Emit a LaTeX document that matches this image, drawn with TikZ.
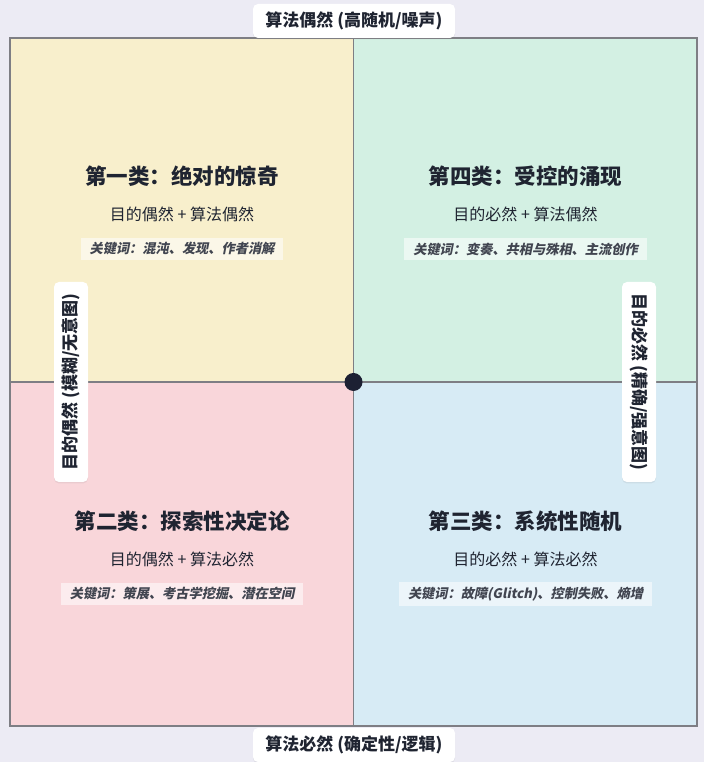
\documentclass[tikz,border=0pt]{standalone}
\usepackage{fontspec}
\setmainfont{Noto Sans CJK SC}
\newfontfamily\kwfont{Noto Sans CJK SC}[FakeSlant=0.2]
\usepackage{xcolor}
\usetikzlibrary{positioning,shadows}
\definecolor{bgpage}{HTML}{ECEBF4}
\definecolor{qyellow}{HTML}{F8EFCC}
\definecolor{qgreen}{HTML}{D3F0E3}
\definecolor{qpink}{HTML}{F9D6DA}
\definecolor{qblue}{HTML}{D7EBF5}
\definecolor{gridline}{HTML}{7E7E84}
\definecolor{ink}{HTML}{1F2431}
\definecolor{hubfill}{HTML}{1C2033}
\tikzset{%
	qtitle/.style    = {font=\fontsize{21.5}{24}\selectfont\bfseries, text=ink}, % Quadrant title
	formula/.style   = {font=\fontsize{16}{19}\selectfont, text=ink}, % Purpose + algorithm
	keyword/.style   = {fill=white, fill opacity=0.55, text opacity=1, text=ink!85,
		font=\kwfont\fontsize{13.2}{15}\selectfont\bfseries, inner xsep=9pt, inner ysep=5pt}, % Keywords
	axislabel/.style = {fill=white, rounded corners=5pt, text=ink,
		font=\fontsize{17}{19}\selectfont\bfseries, minimum width=202pt, minimum height=34pt,
		drop shadow={opacity=0.12, shadow xshift=0pt, shadow yshift=-1.5pt}}, % Axis label
	hub/.style       = {circle, fill=hubfill, minimum size=18pt, inner sep=0pt}, % Origin
}

\begin{document}
\begin{tikzpicture}[x=1pt,y=1pt,node distance=38pt]
	\useasboundingbox (0,0) rectangle (704,762);
	\fill[bgpage] (0,0) rectangle (704,762);
	
	% quadrants
	\fill[qyellow] (10,380) rectangle (353.5,724);
	\fill[qgreen] (353.5,380) rectangle (697,724);
	\fill[qpink] (10,36) rectangle (353.5,380);
	\fill[qblue] (353.5,36) rectangle (697,380);
	\draw[gridline,line width=1.5pt] (353.5,36) -- (353.5,724);
	\draw[gridline,line width=1.5pt] (10,380) -- (697,380);
	\draw[gridline,line width=2pt] (10,36) rectangle (697,724);
	
	\node [hub] (o) at (353.5,380) {};
	
	\node [qtitle] (t1) at (182,586) {第一类：绝对的惊奇};
	\node [formula] (f1) [below of=t1] {目的偶然 + 算法偶然};
	\node [keyword] (k1) [below of=f1,node distance=35pt] {关键词：混沌、发现、作者消解};
	
	\node [qtitle] (t4) at (525.5,586) {第四类：受控的涌现};
	\node [formula] (f4) [below of=t4] {目的必然 + 算法偶然};
	\node [keyword] (k4) [below of=f4,node distance=35pt] {关键词：变奏、共相与殊相、主流创作};
	
	\node [qtitle] (t2) at (182,241) {第二类：探索性决定论};
	\node [formula] (f2) [below of=t2] {目的偶然 + 算法必然};
	\node [keyword] (k2) [below of=f2,node distance=35pt] {关键词：策展、考古学挖掘、潜在空间};
	
	\node [qtitle] (t3) at (525.5,241) {第三类：系统性随机};
	\node [formula] (f3) [below of=t3] {目的必然 + 算法必然};
	\node [keyword] (k3) [below of=f3,node distance=35pt] {关键词：故障(Glitch)、控制失败、熵增};
	
	% axes
	\node [axislabel] (ytop) at (354,741) {算法偶然 (高随机/噪声)};
	\node [axislabel] (ybot) at (354,17) {算法必然 (确定性/逻辑)};
	\node [axislabel,rotate=90,minimum width=200pt] (xleft) at (71,380) {目的偶然 (模糊/无意图)};
	\node [axislabel,rotate=-90,minimum width=200pt] (xright) at (639,380) {目的必然 (精确/强意图)};
\end{tikzpicture}
\end{document}
